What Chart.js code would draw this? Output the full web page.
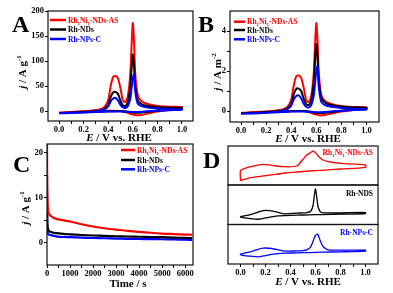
<!DOCTYPE html>
<html>
<head>
<meta charset="utf-8">
<script src="https://cdn.jsdelivr.net/npm/chart.js@4.4.1/dist/chart.umd.min.js"></script>
<style>
  html, body { margin: 0; padding: 0; background: #fff; }
  #wrap { position: relative; width: 393px; height: 293px; }
  canvas { position: absolute; left: 0; top: 0; }
</style>
</head>
<body>
<div id="wrap">
  <canvas id="cA" width="393" height="293"></canvas>
  <canvas id="cB" width="393" height="293"></canvas>
  <canvas id="cC" width="393" height="293"></canvas>
  <canvas id="cD1" width="393" height="293"></canvas>
  <canvas id="cD2" width="393" height="293"></canvas>
  <canvas id="cD3" width="393" height="293"></canvas>
</div>
<script>
const W = 393, H = 293;
const SERIF = '"Liberation Serif", "Times New Roman", serif';
const RED = '#ff0000', BLACK = '#000000', BLUE = '#0000ff';

// tick positions
const eTicks = [0, 0.1, 0.2, 0.3, 0.4, 0.5, 0.6, 0.7, 0.8, 0.9, 1.0];
const aTicksY = [0, 50, 100, 150, 200];
const bTicksY = [0, 1, 2, 3, 4];
const cTicksX = [0, 500, 1000, 1500, 2000, 2500, 3000, 3500, 4000, 4500, 5000, 5500, 6000];
const cTicksY = [0, 5, 10, 15, 20];

// CV loop potentials (V vs. RHE): forward scan then backward scan
const cvE = [0.00, 0.10, 0.20, 0.30, 0.40, 0.50, 0.55, 0.60, 0.63, 0.67, 0.72, 0.80, 0.90, 1.00,
  1.00, 0.90, 0.80, 0.72, 0.67, 0.64, 0.62, 0.61, 0.60, 0.59, 0.58, 0.56, 0.54, 0.52, 0.50,
  0.48, 0.46, 0.44, 0.42, 0.40, 0.37, 0.33, 0.25, 0.15, 0.05, 0.00];

// panel A, mass activity (A g-1)
const aRed = [-3, -2.5, -1.5, -0.5, 0.5, 0, -3, -7, -8.5, -8, -5, -1, 2, 4.5,
  8, 8.5, 10, 14, 20, 32, 75, 140, 176, 130, 75, 30, 18, 21, 45, 65, 70, 68, 50, 22, 8, 3, 0.5, -1, -2.5, -3];
const aBlack = [-4, -3.5, -2.5, -1.5, -0.5, 0, -1, -3, -3.5, -3, -1.5, 0.5, 2.5, 4,
  6, 6.5, 7.5, 10, 14, 22, 50, 90, 113, 85, 48, 18, 10, 11, 20, 34, 38, 37, 28, 12, 5, 1, -1, -2.5, -3.5, -4];
const aBlue = [-4.5, -4, -3, -2, -1, -1, -1.5, -2, -2, -1.5, -0.5, 0.5, 1.5, 2.5,
  3, 3.5, 5, 7, 10, 15, 40, 73, 65, 45, 25, 10, 6, 7, 12, 21, 26, 25, 19, 9, 3, 0, -2, -3, -4, -4.5];

// panel B, specific activity (A m-2)
const bRed = [-0.1, -0.08, -0.05, -0.02, 0, 0, -0.08, -0.18, -0.22, -0.2, -0.13, -0.03, 0.05, 0.1,
  0.18, 0.2, 0.24, 0.35, 0.5, 0.8, 1.9, 3.5, 4.4, 3.3, 1.9, 0.75, 0.45, 0.53, 1.15, 1.65, 1.78, 1.73, 1.27, 0.56, 0.2, 0.08, 0, -0.04, -0.07, -0.1];
const bBlack = [-0.12, -0.1, -0.07, -0.04, -0.01, 0, -0.03, -0.09, -0.1, -0.09, -0.05, 0.01, 0.07, 0.11,
  0.16, 0.18, 0.22, 0.3, 0.41, 0.65, 1.48, 2.65, 3.35, 2.5, 1.42, 0.53, 0.3, 0.33, 0.6, 1.0, 1.12, 1.1, 0.83, 0.36, 0.15, 0.03, -0.03, -0.07, -0.1, -0.12];
const bBlue = [-0.13, -0.12, -0.09, -0.06, -0.03, -0.03, -0.05, -0.06, -0.06, -0.05, -0.02, 0.01, 0.05, 0.08,
  0.1, 0.11, 0.15, 0.21, 0.3, 0.45, 1.2, 2.25, 2.0, 1.38, 0.77, 0.3, 0.18, 0.21, 0.36, 0.63, 0.78, 0.75, 0.57, 0.27, 0.09, 0, -0.06, -0.09, -0.12, -0.13];

// panel C, chronoamperometry
const cTime = [0, 10, 30, 60, 100, 200, 400, 700, 1000, 1500, 2000, 2500, 3000, 3500, 4000, 4500, 5000, 5500, 6000, 6300];
const cRed = [22, 12, 8, 6.8, 6.3, 5.8, 5.3, 5.0, 4.7, 4.1, 3.6, 3.2, 2.9, 2.6, 2.4, 2.2, 2.0, 1.9, 1.8, 1.75];
const cBlack = [15, 5, 3.3, 2.8, 2.5, 2.3, 2.1, 1.95, 1.85, 1.7, 1.58, 1.5, 1.42, 1.36, 1.3, 1.25, 1.2, 1.12, 1.05, 1.0];
const cBlue = [12, 4, 2.2, 1.9, 1.75, 1.6, 1.4, 1.25, 1.2, 1.1, 1.03, 0.97, 0.9, 0.85, 0.8, 0.78, 0.75, 0.7, 0.65, 0.6];

// panel D, blank CVs (arbitrary current, one strip each)
const dE = [0.00, 0.03, 0.08, 0.14, 0.20, 0.26, 0.30, 0.36, 0.45, 0.55, 0.65, 0.80, 1.00,
  1.00, 0.80, 0.70, 0.66, 0.64, 0.62, 0.61, 0.60, 0.59, 0.58, 0.56, 0.53, 0.50, 0.45, 0.35,
  0.25, 0.18, 0.13, 0.08, 0.03, 0.00, 0.00];
const dRed = [4.3, 5.7, 7.3, 8.3, 9.3, 10.3, 11, 12, 13, 14, 14.7, 16, 17.7,
  20, 21.7, 23.3, 25, 26.7, 29.3, 31, 32.3, 33.3, 34, 32.3, 30, 25.7, 19, 18.3, 19.7, 20.7, 19.7, 18.3, 16.3, 14.3, 4.3];
const dBlack = [7.2, 6.5, 5.8, 5.2, 6.5, 7.8, 8.5, 8.8, 9.2, 9.5, 9.8, 10.2, 10.8,
  11.8, 11.5, 11.5, 11.5, 12.2, 17.8, 27.2, 35.2, 27.8, 18.5, 12.8, 11.8, 11.5, 11.2, 10.5, 13.5, 13.8, 11.8, 9.8, 8.5, 7.8, 7.2];
const dBlue = [9, 8.3, 7.7, 7, 8.3, 9.7, 10.3, 10.7, 11, 11.3, 11.7, 12, 12.7,
  13.7, 13.7, 14, 17.3, 22.3, 29, 29.3, 28.3, 25.7, 22.3, 16.7, 14, 13.3, 13, 12.7, 15.3, 15.7, 14, 12, 10.7, 9.7, 9];

// ---- text helpers ----
function richFont(style, size) {
  return (style === 'bi' ? 'italic bold ' : 'bold ') + size + 'px ' + SERIF;
}

function drawRich(ctx, parts, x, y, align, color, rotate) {
  ctx.save();
  ctx.translate(x, y);
  if (rotate) ctx.rotate(rotate);
  ctx.fillStyle = color;
  ctx.textBaseline = 'alphabetic';
  let w = 0;
  parts.forEach(p => { ctx.font = richFont(p[1], p[2]); w += ctx.measureText(p[0]).width; });
  let cx = align === 'center' ? -w / 2 : align === 'right' ? -w : 0;
  parts.forEach(p => {
    ctx.font = richFont(p[1], p[2]);
    ctx.fillText(p[0], cx, p[3] || 0);
    cx += ctx.measureText(p[0]).width;
  });
  ctx.restore();
}

const NAME_RHNI = [['Rh', 'b', 7.5], ['1', 'b', 5, 2], ['Ni', 'b', 7.5], ['1', 'b', 5, 2], ['-NDs-AS', 'b', 7.5]];
const NAME_RH = [['Rh-NDs', 'b', 7.5]];
const NAME_RHC = [['Rh-NPs-C', 'b', 7.5]];
const TITLE_E = [['E', 'bi', 11], [' / V vs. RHE', 'b', 11]];
const TITLE_AG = [['j', 'bi', 11], [' / A g', 'b', 11], ['-1', 'b', 7, -5]];
const TITLE_AM = [['j', 'bi', 11], [' / A m', 'b', 11], ['-2', 'b', 7, -5]];
const TITLE_T = [['Time / s', 'b', 11]];
const letter = ch => [[ch, 'b', 24]];

function decor(cfg) {
  return {
    id: 'decor',
    afterDraw(chart) {
      const ctx = chart.ctx, a = chart.chartArea;
      ctx.save();
      ctx.strokeStyle = '#111';
      ctx.lineWidth = 1.2;
      ctx.strokeRect(a.left, a.top, a.right - a.left, a.bottom - a.top);
      (cfg.legend || []).forEach(it => {
        if (it.x0 !== undefined) {
          ctx.strokeStyle = it.color;
          ctx.lineWidth = 2.5;
          ctx.beginPath();
          ctx.moveTo(it.x0, it.y);
          ctx.lineTo(it.x1, it.y);
          ctx.stroke();
        }
        drawRich(ctx, it.parts, it.tx, it.y + 2.5, it.align || 'left', it.color);
      });
      (cfg.texts || []).forEach(t => drawRich(ctx, t.parts, t.x, t.y, t.align || 'center', '#000', t.rotate));
      ctx.restore();
    }
  };
}

const eLabel = v => {
  const r = Math.round(v * 10);
  return (r % 2 === 0 && r >= 0 && r <= 10) ? (r / 10).toFixed(1) : '';
};

function axis(c, show, size, isX) {
  return {
    type: 'linear', min: c.min, max: c.max, display: show,
    border: { display: false },
    grid: { drawOnChartArea: false, drawTicks: true, tickLength: 3, color: '#000', lineWidth: 1 },
    ticks: {
      autoSkip: false, maxRotation: 0, padding: 1,
      color: '#000', font: { family: SERIF, size: 8.5, weight: 'bold' }, callback: c.label
    },
    afterBuildTicks: s => { s.ticks = c.ticks.map(v => ({ value: v })); },
    afterFit: s => { if (isX) s.height = size; else s.width = size; }
  };
}

function series(xs, ys, color, width, order) {
  return {
    data: xs.map((x, i) => ({ x: x, y: ys[i] })),
    borderColor: color, borderWidth: width, showLine: true,
    pointRadius: 0, tension: 0.25, fill: false, order: order
  };
}

function makeChart(id, o) {
  const yw = o.yShow ? 26 : 0, xh = o.xShow ? 14 : 0;
  return new Chart(document.getElementById(id), {
    type: 'scatter',
    data: { datasets: o.datasets },
    options: {
      responsive: false, animation: false, devicePixelRatio: 1,
      layout: { padding: { left: o.area[0] - yw, top: o.area[1], right: W - o.area[2], bottom: H - o.area[3] - xh } },
      plugins: { legend: { display: false }, tooltip: { enabled: false } },
      scales: { x: axis(o.x, o.xShow, xh, true), y: axis(o.y, o.yShow, yw, false) }
    },
    plugins: [decor(o)]
  });
}

// ---- panel A ----
makeChart('cA', {
  area: [48, 11, 193, 121], xShow: true, yShow: true,
  x: { min: -0.09, max: 1.09, ticks: eTicks, label: eLabel },
  y: { min: -20, max: 200, ticks: aTicksY, label: v => String(v) },
  datasets: [series(cvE, aRed, RED, 2, 3), series(cvE, aBlack, BLACK, 2, 2), series(cvE, aBlue, BLUE, 2, 1)],
  legend: [
    { parts: NAME_RHNI, color: RED, x0: 50, x1: 66, tx: 68, y: 20 },
    { parts: NAME_RH, color: BLACK, x0: 50, x1: 66, tx: 68, y: 29.5 },
    { parts: NAME_RHC, color: BLUE, x0: 50, x1: 66, tx: 68, y: 39 }
  ],
  texts: [
    { parts: letter('A'), x: 12, y: 32, align: 'left' },
    { parts: TITLE_E, x: 119, y: 141 },
    { parts: TITLE_AG, x: 26, y: 72, rotate: -Math.PI / 2 }
  ]
});

// ---- panel B ----
makeChart('cB', {
  area: [230, 11, 379, 122], xShow: true, yShow: true,
  x: { min: -0.088, max: 1.1, ticks: eTicks, label: eLabel },
  y: { min: -0.55, max: 5, ticks: bTicksY, label: v => (v % 2 === 0 ? String(v) : '') },
  datasets: [series(cvE, bRed, RED, 2, 3), series(cvE, bBlack, BLACK, 2, 2), series(cvE, bBlue, BLUE, 2, 1)],
  legend: [
    { parts: NAME_RHNI, color: RED, x0: 234, x1: 245, tx: 247, y: 21.7 },
    { parts: NAME_RH, color: BLACK, x0: 234, x1: 245, tx: 247, y: 30 },
    { parts: NAME_RHC, color: BLUE, x0: 234, x1: 245, tx: 247, y: 39.3 }
  ],
  texts: [
    { parts: letter('B'), x: 198, y: 32, align: 'left' },
    { parts: TITLE_E, x: 308, y: 142 },
    { parts: TITLE_AM, x: 221, y: 72, rotate: -Math.PI / 2 }
  ]
});

// ---- panel C ----
makeChart('cC', {
  area: [47, 144, 193, 265], xShow: true, yShow: true,
  x: { min: 0, max: 6340, ticks: cTicksX, label: v => (v % 1000 === 0 ? String(v) : '') },
  y: { min: -5, max: 22, ticks: cTicksY, label: v => (v % 10 === 0 ? String(v) : '') },
  datasets: [series(cTime, cRed, RED, 2.2, 1), series(cTime, cBlack, BLACK, 2.2, 2), series(cTime, cBlue, BLUE, 2.2, 3)],
  legend: [
    { parts: NAME_RHNI, color: RED, x0: 121, x1: 135, tx: 137, y: 150 },
    { parts: NAME_RH, color: BLACK, x0: 121, x1: 135, tx: 137, y: 160 },
    { parts: NAME_RHC, color: BLUE, x0: 121, x1: 135, tx: 137, y: 169.3 }
  ],
  texts: [
    { parts: letter('C'), x: 13, y: 172, align: 'left' },
    { parts: TITLE_T, x: 128, y: 287 },
    { parts: TITLE_AG, x: 28.5, y: 208, rotate: -Math.PI / 2 }
  ]
});

// ---- panel D (three strips sharing the potential axis) ----
const dX = { min: -0.1, max: 1.1, ticks: eTicks, label: eLabel };
const dY = { min: 0, max: 39, ticks: [], label: () => '' };

makeChart('cD1', {
  area: [228, 146, 378, 185], xShow: false, yShow: false, x: dX, y: dY,
  datasets: [series(dE, dRed, RED, 1.3, 1)],
  legend: [{ parts: NAME_RHNI, color: RED, tx: 373, y: 152, align: 'right' }],
  texts: [{ parts: letter('D'), x: 203, y: 168, align: 'left' }]
});

makeChart('cD2', {
  area: [228, 185, 378, 224.5], xShow: false, yShow: false, x: dX, y: dY,
  datasets: [series(dE, dBlack, BLACK, 1.3, 1)],
  legend: [{ parts: [['Rh-NDS', 'b', 7.5]], color: BLACK, tx: 373, y: 193, align: 'right' }]
});

makeChart('cD3', {
  area: [228, 224.5, 378, 264], xShow: true, yShow: false, x: dX, y: dY,
  datasets: [series(dE, dBlue, BLUE, 1.3, 1)],
  legend: [{ parts: NAME_RHC, color: BLUE, tx: 373, y: 232, align: 'right' }],
  texts: [{ parts: TITLE_E, x: 308, y: 285 }]
});
</script>
</body>
</html>
